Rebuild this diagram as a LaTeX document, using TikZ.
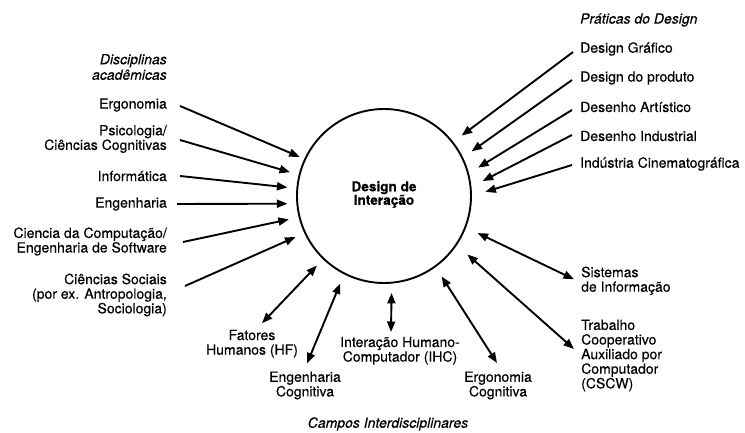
\documentclass[tikz,border=0pt]{standalone}
\usepackage{fontspec}
\setmainfont{TeX Gyre Heros}[FakeBold=0.35]
\usetikzlibrary{arrows.meta,calc}
\begin{document}
\begin{tikzpicture}[x=1pt,y=-1pt,
  lbl/.style={inner sep=0pt, font=\fontsize{14pt}{14.6pt}\selectfont},
  head/.style={inner sep=0pt, font=\fontsize{14pt}{15.5pt}\selectfont\itshape},
  tip/.style={-{Triangle[length=10.5pt,width=8pt]}, line width=1.9pt},
  both/.style={{Triangle[length=10.5pt,width=8pt]}-{Triangle[length=10.5pt,width=8pt]}, line width=1.9pt}]
\useasboundingbox (0,0) rectangle (745,433);

% central field
\node[circle, draw, line width=1.9pt, minimum size=174pt, inner sep=0pt] (ci) at (384,196) {};
\node[lbl, font=\fontsize{13.6pt}{13.5pt}\selectfont\bfseries, align=center] (dl) at (384,194.5) {Design de\\Interação};

% academic disciplines
\node[head, anchor=east, align=right] (dis) at (167,67) {Disciplinas\\acadêmicas};
\node[lbl, anchor=east] (erg) at (167,105) {Ergonomia};
\node[lbl, anchor=east, align=right] (psi) at (167,139) {Psicologia/\\Ciências Cognitivas};
\node[lbl, anchor=east] (inf) at (167,176) {Informática};
\node[lbl, anchor=east] (eng) at (167,204) {Engenharia};
\node[lbl, anchor=east, align=right] (cc) at (167,241.5) {Ciencia da Computação/\\Engenharia de Software};
\node[lbl, anchor=east, align=right] (soc) at (167,295) {Ciências Sociais\\(por ex. Antropologia,\\Sociologia)};

% design practices
\node[head, anchor=west] (pra) at (580,20) {Práticas do Design};
\node[lbl, anchor=west] (dg) at (580,49) {Design Gráfico};
\node[lbl, anchor=west] (dp) at (580,78) {Design do produto};
\node[lbl, anchor=west] (da) at (580,107) {Desenho Artístico};
\node[lbl, anchor=west] (di) at (580,136) {Desenho Industrial};
\node[lbl, anchor=west] (ic) at (580,164) {Indústria Cinematográfica};

% interdisciplinary fields
\node[lbl, anchor=west, align=left] (si) at (581,280.8) {Sistemas\\de Informação};
\node[lbl, anchor=west, align=left] (tr) at (581,355.5) {Trabalho\\Cooperativo\\Auxiliado por\\Computador\\(CSCW)};
\node[lbl, align=center] (fat) at (252,343.7) {Fatores\\Humanos (HF)};
\node[lbl, align=center] (ihc) at (400,350.7) {Interação Humano-\\Computador (IHC)};
\node[lbl, align=center] (ec) at (305,385.5) {Engenharia\\Cognitiva};
\node[lbl, align=center] (ergc) at (498,385.5) {Ergonomia\\Cognitiva};
\node[head] (campos) at (388,424) {Campos Interdisciplinares};

% incoming arrows from the disciplines
\draw[tip, shorten >=5pt]   ($(erg.east)+(13,1)$)  -- (ci.155);
\draw[tip, shorten >=9pt]   ($(psi.east)+(13,1)$)  -- (ci.166);
\draw[tip, shorten >=9pt]   ($(inf.east)+(13,0)$)  -- (ci.175.6);
\draw[tip, shorten >=9pt]   ($(eng.east)+(10,0)$)  -- (ci.185.3);
\draw[tip, shorten >=10pt]  ($(cc.east)+(16,0.5)$) -- (ci.194.2);
\draw[tip, shorten >=9.6pt] ($(soc.east)+(18,-9)$) -- (ci.205.5);

% incoming arrows from the design practices
\draw[tip, shorten >=10.4pt] ($(dg.west)+(-7,3)$)  -- (ci.38.2);
\draw[tip, shorten >=10.5pt] ($(dp.west)+(-8,2)$)  -- (ci.26.1);
\draw[tip, shorten >=10.8pt] ($(da.west)+(-8,3)$)  -- (ci.15.9);
\draw[tip, shorten >=12.6pt] ($(di.west)+(-8,-1)$) -- (ci.6.9);
\draw[tip, shorten >=14pt]   ($(ic.west)+(-8,1)$)  -- (ci.-0.5);

% two-way links with the interdisciplinary fields
\draw[both, shorten <=12.7pt] (ci.-21)   -- ($(si.west)+(-7,-1.5)$);
\draw[both, shorten <=14pt]   (ci.-34.8) -- ($(tr.west)+(-7,-6.5)$);
\draw[both, shorten <=11pt]   (ci.-54.2) -- ($(ergc)+(-1,-22.5)$);
\draw[both, shorten <=9.3pt]  (ci.-85.4) -- ($(ihc)+(-9,-18.7)$);
\draw[both, shorten <=9.8pt]  (ci.243.2) -- ($(ec)+(2,-22)$);
\draw[both, shorten <=8.75pt] (ci.226.1) -- ($(fat)+(10,-20.5)$);
\end{tikzpicture}
\end{document}
